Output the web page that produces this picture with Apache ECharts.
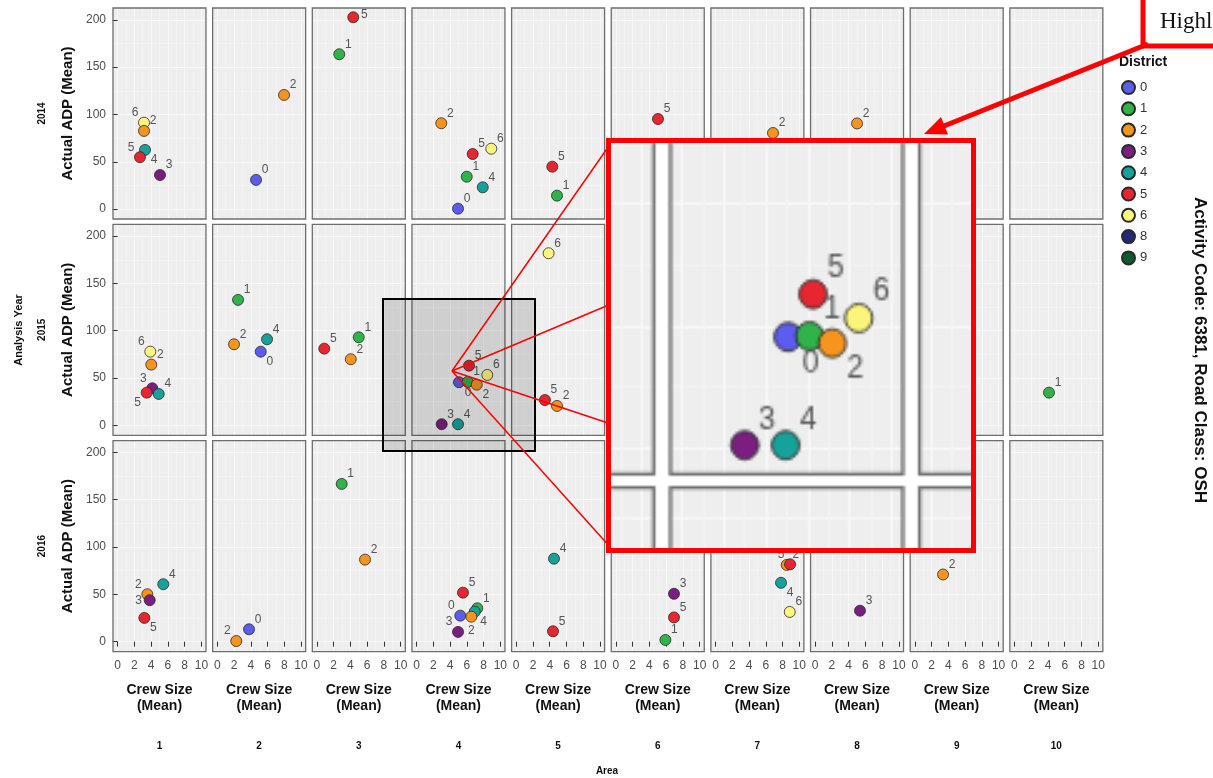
<!DOCTYPE html>
<html>
<head>
<meta charset="utf-8">
<script src="https://cdn.jsdelivr.net/npm/echarts@6/dist/echarts.min.js"></script>
<style>
  html, body { margin: 0; padding: 0; background: #fff; width: 1213px; height: 778px; overflow: hidden; }
  #main { position: absolute; left: 0; top: 0; width: 1213px; height: 778px; }
  /* magnified view of the highlighted panel, framed in red */
  #zoomFrame { position: absolute; left: 606px; top: 138px; width: 360px; height: 405px;
               border: 5px solid #ff0000; overflow: hidden; background: #fff; }
  #zoomChart { position: absolute; left: 0; top: 0; width: 1213px; height: 778px;
               transform-origin: 0 0; transform: translate(-970.5px, -792.3px) scale(2.5, 2.58); }
</style>
</head>
<body>
<div id="main"></div>
<div id="zoomFrame"><div id="zoomChart"></div></div>
<script>
// ---- data ----
const years = ['2014', '2015', '2016'];
const areas = ['1', '2', '3', '4', '5', '6', '7', '8', '9', '10'];
const districts = ['0', '1', '2', '3', '4', '5', '6', '8', '9'];
const districtColors = ['#5c5cf0', '#2fb34a', '#f7941d', '#7a1f80', '#15a29b', '#e8262f', '#fbf57c', '#23297a', '#0e5a2c'];
const crewTicks = [0, 2, 4, 6, 8, 10];
const adpTicks = [0, 50, 100, 150, 200];

// [area, district, crew size (mean), actual ADP (mean)]
const points2014 = [
  [1, '6', 3.15, 91.3], [1, '2', 3.15, 82.6], [1, '4', 3.27, 62.5], [1, '5', 2.67, 54.8], [1, '3', 5.06, 36.0],
  [2, '2', 7.97, 120.6], [2, '0', 4.63, 30.8],
  [3, '5', 4.34, 202.7], [3, '1', 2.67, 163.6],
  [4, '2', 2.95, 90.7], [4, '5', 6.70, 58.2], [4, '6', 8.92, 63.8], [4, '1', 5.99, 34.2], [4, '4', 7.90, 23.0], [4, '0', 4.95, 0.4],
  [5, '5', 4.31, 44.8], [5, '1', 4.87, 14.2],
  [6, '5', 5.03, 95.2],
  [7, '2', 6.86, 80.4],
  [8, '2', 5.00, 90.5]
];
const points2015 = [
  [1, '6', 3.90, 77.9], [1, '2', 4.02, 64.2], [1, '3', 4.14, 39.2], [1, '5', 3.47, 34.6], [1, '4', 4.91, 33.2],
  [2, '1', 2.48, 132.6], [2, '2', 2.00, 85.7], [2, '4', 5.94, 91.0], [2, '0', 5.19, 77.9],
  [3, '5', 0.88, 81.1], [3, '1', 4.99, 93.1], [3, '2', 4.04, 69.9],
  [4, '5', 6.26, 63.1], [4, '6', 8.44, 53.3], [4, '0', 5.07, 45.6], [4, '1', 6.10, 45.9], [4, '2', 7.18, 43.0], [4, '3', 3.00, 1.2], [4, '4', 4.95, 1.2],
  [5, '6', 3.87, 181.9], [5, '5', 3.43, 26.8], [5, '2', 4.87, 20.5],
  [10, '1', 4.12, 34.6]
];
const points2016 = [
  [1, '2', 3.55, 50.1], [1, '3', 3.83, 43.8], [1, '4', 5.45, 60.7], [1, '5', 3.19, 25.1],
  [2, '2', 2.27, 0.7], [2, '0', 3.79, 13.1],
  [3, '1', 2.96, 166.7], [3, '2', 5.74, 86.7],
  [4, '5', 5.54, 51.8], [4, '1', 7.25, 35.3], [4, '4', 6.94, 31.7], [4, '2', 6.54, 26.4], [4, '0', 5.22, 27.5], [4, '3', 4.95, 10.3],
  [5, '4', 4.51, 87.7], [5, '5', 4.39, 11.0],
  [6, '3', 6.94, 50.6], [6, '5', 6.94, 25.6], [6, '1', 5.91, 1.8],
  [7, '2', 8.50, 81.1], [7, '5', 8.90, 81.8], [7, '4', 7.82, 62.2], [7, '6', 8.86, 31.4],
  [8, '3', 5.35, 32.7],
  [9, '2', 3.37, 71.0]
];
const pointsByYear = [points2014, points2015, points2016];

// ---- label placement (repelled text next to each point) ----
const labelOffsets = {
  tr: [9, -10], tl: [-9, -10], br: [9, 10], bl: [-9, 10], l: [-11, 0], r: [11, -3], b: [0, 14]
};
const labelSide = {
  '2014|1|6': 'tl', '2014|1|5': 'tl', '2014|1|4': 'br', '2014|3|5': 'r',
  '2015|1|6': 'tl', '2015|1|3': 'tl', '2015|1|5': 'bl',
  '2015|2|0': 'br', '2015|4|0': 'br', '2015|4|2': 'br',
  '2016|1|2': 'tl', '2016|1|3': 'l', '2016|1|5': 'br',
  '2016|2|2': 'tl',
  '2016|4|0': 'tl', '2016|4|3': 'tl', '2016|4|2': 'b', '2016|4|4': 'br',
  '2016|7|4': 'br', '2016|7|5': 'tl'
};

// ---- layout ----
const FONT = '"Liberation Sans", Arial, sans-serif';
function panelRect(r, c) {
  return { left: 113 + c * 99.65, top: 8 + r * 216.3, width: 93, height: 211 };
}

function buildOption(annotated) {
  const grid = [], xAxis = [], yAxis = [], series = [], els = [];
  years.forEach((yr, r) => {
    areas.forEach((ar, c) => {
      const idx = r * areas.length + c;
      const rect = panelRect(r, c);
      const bottomRow = r === years.length - 1;
      const firstCol = c === 0;
      grid.push({
        left: rect.left, top: rect.top, width: rect.width, height: rect.height,
        show: true, backgroundColor: '#eeeeee', borderWidth: 0
      });
      // panel frame drawn above the grid lines
      els.push({ type: 'rect', silent: true, z: 1,
        shape: { x: rect.left, y: rect.top, width: rect.width, height: rect.height },
        style: { fill: null, stroke: '#6e6e6e', lineWidth: 1.3 } });
      xAxis.push({
        gridIndex: idx, type: 'value', min: -0.55, max: 10.55, splitNumber: 5,
        axisLine: { show: false },
        axisTick: { show: bottomRow, length: 5, customValues: crewTicks, lineStyle: { color: '#333' } },
        axisLabel: { show: bottomRow, customValues: crewTicks, margin: 8, fontSize: 12, color: '#4d4d4d', fontFamily: FONT },
        splitLine: { show: true, lineStyle: { color: '#f8f8f8', width: 1 } },
        minorTick: { show: false, splitNumber: 2 },
        minorSplitLine: { show: true, lineStyle: { color: '#f3f3f3', width: 0.8 } },
        name: bottomRow ? 'Crew Size\n(Mean)' : '', nameLocation: 'middle', nameGap: 31,
        nameTextStyle: { fontWeight: 'bold', fontSize: 14, color: '#111', lineHeight: 16, fontFamily: FONT }
      });
      yAxis.push({
        gridIndex: idx, type: 'value', min: -10.5, max: 212.5, splitNumber: 4,
        axisLine: { show: false },
        axisTick: { show: firstCol, length: 5, customValues: adpTicks, lineStyle: { color: '#333' } },
        axisLabel: { show: firstCol, customValues: adpTicks, margin: 7, fontSize: 12, color: '#4d4d4d', fontFamily: FONT },
        splitLine: { show: true, lineStyle: { color: '#f8f8f8', width: 1 } },
        minorTick: { show: false, splitNumber: 2 },
        minorSplitLine: { show: true, lineStyle: { color: '#f3f3f3', width: 0.8 } },
        name: firstCol ? 'Actual ADP (Mean)' : '', nameLocation: 'middle', nameGap: 38,
        nameTextStyle: { fontWeight: 'bold', fontSize: 15, color: '#111', fontFamily: FONT }
      });
      pointsByYear[r].filter(p => p[0] === c + 1).forEach(p => {
        const d = p[1];
        const side = labelSide[yr + '|' + ar + '|' + d] || 'tr';
        series.push({
          type: 'scatter', name: d, xAxisIndex: idx, yAxisIndex: idx, z: 3,
          symbolSize: 11, silent: true, emphasis: { disabled: true },
          itemStyle: { color: districtColors[districts.indexOf(d)], borderColor: '#2a2a2a', borderWidth: 0.8, opacity: 1 },
          label: { show: true, position: 'inside', offset: labelOffsets[side], formatter: d,
                   fontSize: 12, color: '#555', fontFamily: FONT },
          data: [[p[2], p[3]]]
        });
      });
    });
  });
  // legend entries for districts without points in this selection
  districts.forEach((d, i) => {
    if (!series.some(s => s.name === d)) {
      series.push({ type: 'scatter', name: d, xAxisIndex: 0, yAxisIndex: 0, data: [],
        itemStyle: { color: districtColors[i], borderColor: '#2a2a2a', borderWidth: 0.8, opacity: 1 } });
    }
  });

  const option = {
    animation: false,
    backgroundColor: 'transparent',
    textStyle: { fontFamily: FONT },
    grid, xAxis, yAxis, series,
    legend: {
      data: districts, orient: 'vertical', left: 1121, top: 80, padding: 0,
      itemWidth: 13, itemHeight: 13, itemGap: 6.3, icon: 'circle', selectedMode: false,
      itemStyle: { opacity: 1 },
      textStyle: { fontSize: 13, color: '#333', fontFamily: FONT }
    }
  };

  if (annotated) {
    const boldText = (text, x, y, size, rot) => ({
      type: 'text', x, y, rotation: rot || 0, silent: true,
      style: { text, fill: '#111', font: 'bold ' + size + 'px ' + FONT, align: 'center', verticalAlign: 'middle' }
    });
    els.push(boldText('Analysis Year', 19, 330, 11, Math.PI / 2));
    years.forEach((yr, r) => {
      const rc = panelRect(r, 0);
      els.push(boldText(yr, 42, rc.top + rc.height / 2, 10, Math.PI / 2));
    });
    areas.forEach((ar, c) => {
      const rc = panelRect(0, c);
      els.push(boldText(ar, rc.left + rc.width / 2, 746, 10, 0));
    });
    els.push(boldText('Area', 607, 771, 10, 0));
    const district = boldText('District', 1119, 62, 14, 0);
    district.style.align = 'left';
    els.push(district);
    els.push(boldText('Activity Code: 6381, Road Class: OSH', 1200, 350, 17, -Math.PI / 2));

    // highlighted region around the area-4 / 2015 panel
    els.push({ type: 'rect', silent: true, z: 10,
      shape: { x: 383, y: 299, width: 152, height: 152 },
      style: { fill: 'rgba(0,0,0,0.13)', stroke: '#000', lineWidth: 2 } });
    // rays from the cluster to the magnified view
    [[611, 143], [611, 304], [611, 424], [611, 548]].forEach(pt => {
      els.push({ type: 'line', silent: true, z: 11,
        shape: { x1: 452, y1: 371, x2: pt[0], y2: pt[1] },
        style: { stroke: '#ff0000', lineWidth: 1.5 } });
    });
    // call-out box and arrow
    els.push({ type: 'rect', silent: true, z: 12,
      shape: { x: 1143, y: -10, width: 120, height: 56 },
      style: { fill: '#fff', stroke: '#ff0000', lineWidth: 5 } });
    els.push({ type: 'text', silent: true, z: 13, x: 1160, y: 22,
      style: { text: 'Highlighted Area', fill: '#111', font: '23px "Liberation Serif", "Times New Roman", serif',
               align: 'left', verticalAlign: 'middle' } });
    els.push({ type: 'line', silent: true, z: 12,
      shape: { x1: 1148, y1: 44, x2: 944, y2: 126 },
      style: { stroke: '#ff0000', lineWidth: 5 } });
    els.push({ type: 'polygon', silent: true, z: 12,
      shape: { points: [[924, 134], [948, 134.5], [941, 117]] },
      style: { fill: '#ff0000' } });
  }
  option.graphic = { elements: els };
  return option;
}

const mainChart = echarts.init(document.getElementById('main'), null, { renderer: 'canvas' });
mainChart.setOption(buildOption(true));
const zoomChart = echarts.init(document.getElementById('zoomChart'), null, { renderer: 'canvas' });
zoomChart.setOption(buildOption(false));
</script>
</body>
</html>
